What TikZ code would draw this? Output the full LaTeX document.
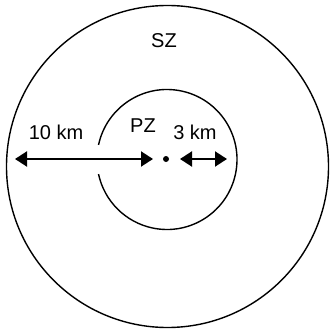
\documentclass[tikz,border=0pt]{standalone}
\usepackage{fontspec}
\setmainfont{Liberation Sans}
\usetikzlibrary{arrows.meta,positioning}

\begin{document}
\begin{tikzpicture}[x=1pt,y=-1pt,
  zone/.style={line width=1.4pt},
  dist/.style={line width=2pt,{Triangle[length=12pt,width=15pt]}-{Triangle[length=12pt,width=15pt]}},
  lbl/.style={font=\fontsize{20}{24}\selectfont}]
\useasboundingbox (0,0) rectangle (332,329);
% outer zone SZ
\draw[zone] (167.5,166.5) circle[radius=161];
% inner zone PZ, broken where the arrow passes
\draw[zone] (167,159.5) ++(192:70) arc[start angle=192,end angle=528,radius=70];
\fill (166,159) circle[radius=3];
\coordinate (tenL) at (15,159);
\coordinate (tenR) at (153,159);
\coordinate (threeL) at (180,159);
\coordinate (threeR) at (227,159);
\draw[dist] (tenL) -- (tenR);
\draw[dist] (threeL) -- (threeR);
\node[lbl] (sz) at (164,41) {SZ};
\node[lbl] (pz) at (143,126) {PZ};
\node[lbl] (three) at (195,132) {3 km};
\node[lbl] (ten) at (56,132) {10 km};
\end{tikzpicture}
\end{document}
